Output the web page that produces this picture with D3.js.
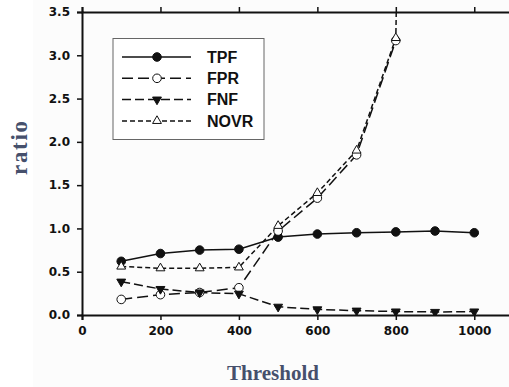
<!DOCTYPE html>
<html><head><meta charset="utf-8">
<script src="https://cdn.jsdelivr.net/npm/d3@7"></script>
<style>body{margin:0;background:#fff}svg{display:block}</style>
</head><body>
<svg id="c" width="509" height="387"></svg>
<script>
const thresholds = [100,200,300,400,500,600,700,800,900,1000];
const TPF  = [0.62,0.71,0.75,0.76,0.90,0.935,0.95,0.96,0.97,0.95];
const FPR  = [0.18,0.235,0.26,0.315,0.97,1.35,1.85,3.17,null,null];
const FNF  = [0.385,0.30,0.26,0.245,0.095,0.065,0.05,0.04,0.035,0.04];
const NOVR = [0.56,0.54,0.54,0.55,1.03,1.41,1.90,3.20,30,null];
const xTicks = [0,200,400,600,800,1000];
const yTicks = [0,0.5,1.0,1.5,2.0,2.5,3.0,3.5];
const seriesNames = ["TPF","FPR","FNF","NOVR"];

const svg = d3.select("#c");
const x = d3.scaleLinear().domain([0,1100]).range([82,513.5]);
const y = d3.scaleLinear().domain([0,3.5]).range([315,12]);

svg.append("rect").attr("x",33).attr("y",0).attr("width",476).attr("height",387).attr("fill","#fcfcfc");

svg.append("defs").append("clipPath").attr("id","clip")
  .append("rect").attr("x",82).attr("y",12).attr("width",440).attr("height",303);

const tickFont = "'DejaVu Sans', sans-serif";
const gx = svg.append("g").attr("transform","translate(0,315)")
  .call(d3.axisBottom(x).tickValues(xTicks).tickSize(5).tickPadding(6).tickFormat(d3.format("d")));
const gt = svg.append("g").attr("transform","translate(0,12)")
  .call(d3.axisTop(x).tickValues(xTicks).tickSize(5).tickFormat(""));
const gy = svg.append("g").attr("transform","translate(82,0)")
  .call(d3.axisLeft(y).tickValues(yTicks).tickSize(5).tickPadding(7).tickFormat(d3.format(".1f")));
[gx,gt,gy].forEach(g=>{
  g.select(".domain").attr("stroke","#111").attr("stroke-width",2);
  g.selectAll(".tick line").attr("stroke","#111").attr("stroke-width",1.5);
  g.selectAll("text").attr("font-family",tickFont).attr("font-weight","bold")
   .attr("font-size",12).attr("fill","#111");
});

svg.append("text").attr("x",273).attr("y",380).attr("text-anchor","middle")
  .attr("font-family","'Liberation Serif', serif").attr("font-weight","bold").attr("font-size",21)
  .attr("fill","#46506c").text("Threshold");
svg.append("text").attr("transform","translate(27,148) rotate(-90)").attr("text-anchor","middle")
  .attr("font-family","'Liberation Serif', serif").attr("font-weight","bold").attr("font-size",23)
  .attr("textLength",54).attr("lengthAdjust","spacing")
  .attr("fill","#46506c").text("ratio");

const styles = {
  TPF:  {data:TPF,  dash:null,  marker:"circle",   fill:"#111"},
  FPR:  {data:FPR,  dash:"11,5", marker:"circle",  fill:"#fff"},
  FNF:  {data:FNF,  dash:"9,4",  marker:"tridown", fill:"#111"},
  NOVR: {data:NOVR, dash:"5,3",  marker:"triup",   fill:"#fff"}
};
const triUp = d3.symbol().type(d3.symbolTriangle).size(34);
function drawMarker(g, kind, fill, cx, cy){
  if(kind==="circle"){
    g.append("circle").attr("cx",cx).attr("cy",cy).attr("r",4.3)
     .attr("fill",fill).attr("stroke","#111").attr("stroke-width",1);
  } else {
    const rot = kind==="tridown" ? 180 : 0;
    g.append("path").attr("d",triUp()).attr("transform",`translate(${cx},${cy}) rotate(${rot})`)
     .attr("fill",fill).attr("stroke","#111").attr("stroke-width",1);
  }
}

const plot = svg.append("g").attr("clip-path","url(#clip)");
const line = d3.line().defined(d=>d[1]!==null).x(d=>x(d[0])).y(d=>y(d[1]));
seriesNames.forEach(n=>{
  const s = styles[n];
  const pts = thresholds.map((t,i)=>[t,s.data[i]]);
  plot.append("path").attr("d",line(pts)).attr("fill","none").attr("stroke","#111")
    .attr("stroke-width",1.5).attr("stroke-dasharray",s.dash);
});
seriesNames.forEach(n=>{
  const s = styles[n];
  thresholds.forEach((t,i)=>{
    const v = s.data[i];
    if(v!==null && v<=3.5) drawMarker(plot, s.marker, s.fill, x(t), y(v));
  });
});

const lg = svg.append("g");
lg.append("rect").attr("x",113).attr("y",38.5).attr("width",151).attr("height",101)
  .attr("fill","#fff").attr("stroke","#666").attr("stroke-width",1);
seriesNames.forEach((n,i)=>{
  const s = styles[n];
  const yy = 57 + i*21.3;
  lg.append("line").attr("x1",122).attr("x2",191).attr("y1",yy).attr("y2",yy)
    .attr("stroke","#111").attr("stroke-width",1.5).attr("stroke-dasharray",s.dash);
  drawMarker(lg, s.marker, s.fill, 157, yy);
  lg.append("text").attr("x",207).attr("y",yy).attr("dy","0.36em")
    .attr("font-family","'Liberation Sans', Arial, sans-serif").attr("font-weight","bold")
    .attr("font-size",16).attr("fill","#111").text(n);
});
</script>
</body></html>
